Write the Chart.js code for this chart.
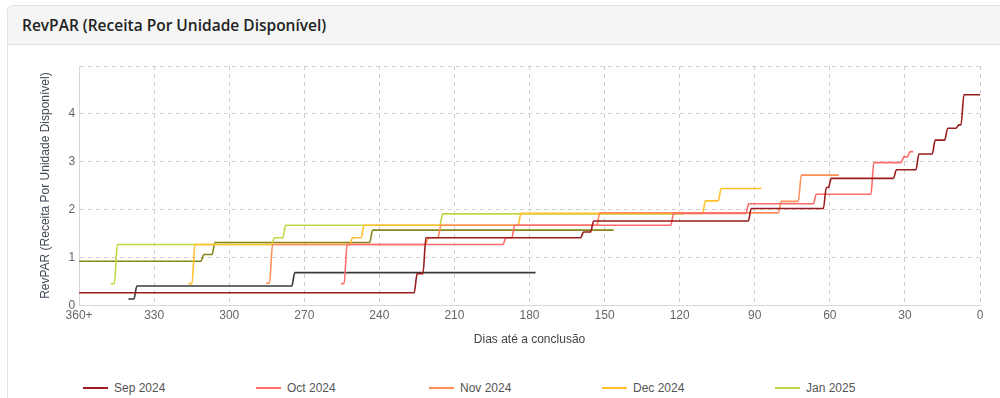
<!DOCTYPE html>
<html>
<head>
<meta charset="utf-8">
<script src="https://cdn.jsdelivr.net/npm/chart.js@4.4.0/dist/chart.umd.min.js"></script>
<style>
  html, body { margin: 0; padding: 0; background: #fff; overflow: hidden; }
  body { width: 1000px; height: 398px; position: relative; }
  .card { position: absolute; left: 7px; top: 5px; width: 1010px; height: 440px;
          border: 1px solid #e2e2e2; border-radius: 6px; background: #fff; }
  .card-header { height: 38px; line-height: 38px; padding-left: 14px; background: #f5f5f5;
                 border-bottom: 1px solid #e2e2e2; border-radius: 6px 6px 0 0;
                 font-family: 'Open Sans', Roboto, sans-serif; font-size: 15.5px; font-weight: 600; color: #222; }
  .chart-box { position: absolute; left: 0; top: 39px; width: 992px; height: 306px; }
  #legend { position: absolute; left: 75px; top: 374px; width: 880px; display: flex; flex-wrap: wrap;
            font-family: 'Liberation Sans', Arial, sans-serif; font-size: 12px; color: #555; }
  .legend-item { width: 173px; display: flex; align-items: center; height: 16px; margin-bottom: 10px; }
  .legend-line { width: 25px; height: 0; border-top: 2px solid; margin-right: 6px; }
</style>
</head>
<body>
<div class="card">
  <div class="card-header">RevPAR (Receita Por Unidade Disponível)</div>
  <div class="chart-box"><canvas id="revparChart"></canvas></div>
  <div id="legend"></div>
</div>
<script>
// ----DATA----
// each series: day where the value changes, and the value from that day on
// (first entry = where the line starts, last entry = where it ends)
const seriesLabels = ['Sep 2024', 'Oct 2024', 'Nov 2024', 'Dec 2024', 'Jan 2025', 'Feb 2025', 'Mar 2025'];
const seriesColors = ['#9a1c1c', '#ff6a6a', '#ff8d57', '#ffc02c', '#c3d641', '#85851a', '#3b3b3b'];

const sepDays   = [360, 225.5, 222, 159, 155, 92, 62, 60, 34, 25, 18.5, 13.5, 9, 7, 0];
const sepValues = [0.26, 0.66, 1.41, 1.53, 1.76, 2.02, 2.46, 2.65, 2.83, 3.16, 3.45, 3.70, 3.77, 4.40, 4.40];

const octDays   = [255.3, 253.5, 190, 186.5, 123, 93, 66, 43, 31, 28.5, 26.7];
const octValues = [0.45, 1.27, 1.41, 1.67, 1.92, 2.12, 2.32, 2.98, 3.10, 3.21, 3.21];

const novDays   = [285.3, 283.3, 221, 216, 152.5, 80, 72, 56.4];
const novValues = [0.46, 1.27, 1.41, 1.67, 1.93, 2.17, 2.72, 2.72];

const decDays   = [316.3, 314.3, 251.3, 246.7, 184, 110.3, 104, 87.3];
const decValues = [0.45, 1.27, 1.41, 1.67, 1.92, 2.18, 2.44, 2.44];

const janDays   = [347.3, 345.3, 282.5, 278, 215.3, 118.7];
const janValues = [0.45, 1.27, 1.41, 1.67, 1.91, 1.91];

const febDays   = [360, 310.7, 306.3, 243.3, 146.4];
const febValues = [0.92, 1.06, 1.31, 1.57, 1.57];

const marDays   = [340.3, 337.5, 274.4, 177.6];
const marValues = [0.13, 0.40, 0.68, 0.68];

const allDays = [sepDays, octDays, novDays, decDays, janDays, febDays, marDays];
const allValues = [sepValues, octValues, novValues, decValues, janValues, febValues, marValues];

const xTickStep = 30;
const yTickStep = 1;

// ----PROCESSING----
function buildSteps(days, values) {
    const points = [{ x: days[0], y: values[0] }];
    for (let i = 1; i < days.length - 1; i++) {
        points.push({ x: days[i] + 0.6, y: values[i - 1] });
        points.push({ x: days[i] - 0.6, y: values[i] });
    }
    points.push({ x: days[days.length - 1], y: values[values.length - 1] });
    return points;
}

const datasets = seriesLabels.map((label, i) => ({
    label: label,
    data: buildSteps(allDays[i], allValues[i]),
    borderColor: seriesColors[i],
    backgroundColor: seriesColors[i],
    borderWidth: 1.6,
    pointRadius: 0,
    fill: false,
    cubicInterpolationMode: 'monotone'
}));

// ----OUTPUT----
const ctx = document.getElementById('revparChart').getContext('2d');
const revparChart = new Chart(ctx, {
    type: 'line',
    data: { datasets: datasets },
    options: {
        responsive: true,
        maintainAspectRatio: false,
        animation: false,
        layout: { padding: { top: 21, right: 20, left: 0, bottom: 0 } },
        plugins: {
            legend: { display: false },
            tooltip: { enabled: false }
        },
        scales: {
            x: {
                type: 'linear',
                reverse: true,
                min: 0,
                max: 360,
                ticks: {
                    stepSize: xTickStep,
                    autoSkip: false,
                    maxRotation: 0,
                    padding: 3,
                    color: '#666',
                    font: { size: 12 },
                    callback: v => v === 360 ? '360+' : v
                },
                grid: { color: '#cfcfcf', drawTicks: false },
                border: { color: '#d8d8d8', dash: [4, 4] },
                title: {
                    display: true,
                    text: 'Dias até a conclusão',
                    color: '#444',
                    font: { size: 12 },
                    padding: { top: 7, bottom: 4 }
                }
            },
            y: {
                min: 0,
                max: 5,
                ticks: {
                    stepSize: yTickStep,
                    padding: 4,
                    color: '#666',
                    font: { size: 12 },
                    callback: v => v === 5 ? '' : v
                },
                grid: { color: '#cfcfcf', drawTicks: false },
                border: { color: '#d8d8d8', dash: [4, 4] },
                title: {
                    display: true,
                    text: 'RevPAR (Receita Por Unidade Disponível)',
                    color: '#3f4654',
                    font: { size: 12 },
                    padding: { top: 30, bottom: 12 }
                }
            }
        }
    }
});

// html legend, wide fixed spacing like the dashboard
const legendEl = document.getElementById('legend');
revparChart.data.datasets.forEach(ds => {
    const item = document.createElement('div');
    item.className = 'legend-item';
    const line = document.createElement('span');
    line.className = 'legend-line';
    line.style.borderTopColor = ds.borderColor;
    const text = document.createElement('span');
    text.textContent = ds.label;
    item.appendChild(line);
    item.appendChild(text);
    legendEl.appendChild(item);
});
</script>
</body>
</html>
